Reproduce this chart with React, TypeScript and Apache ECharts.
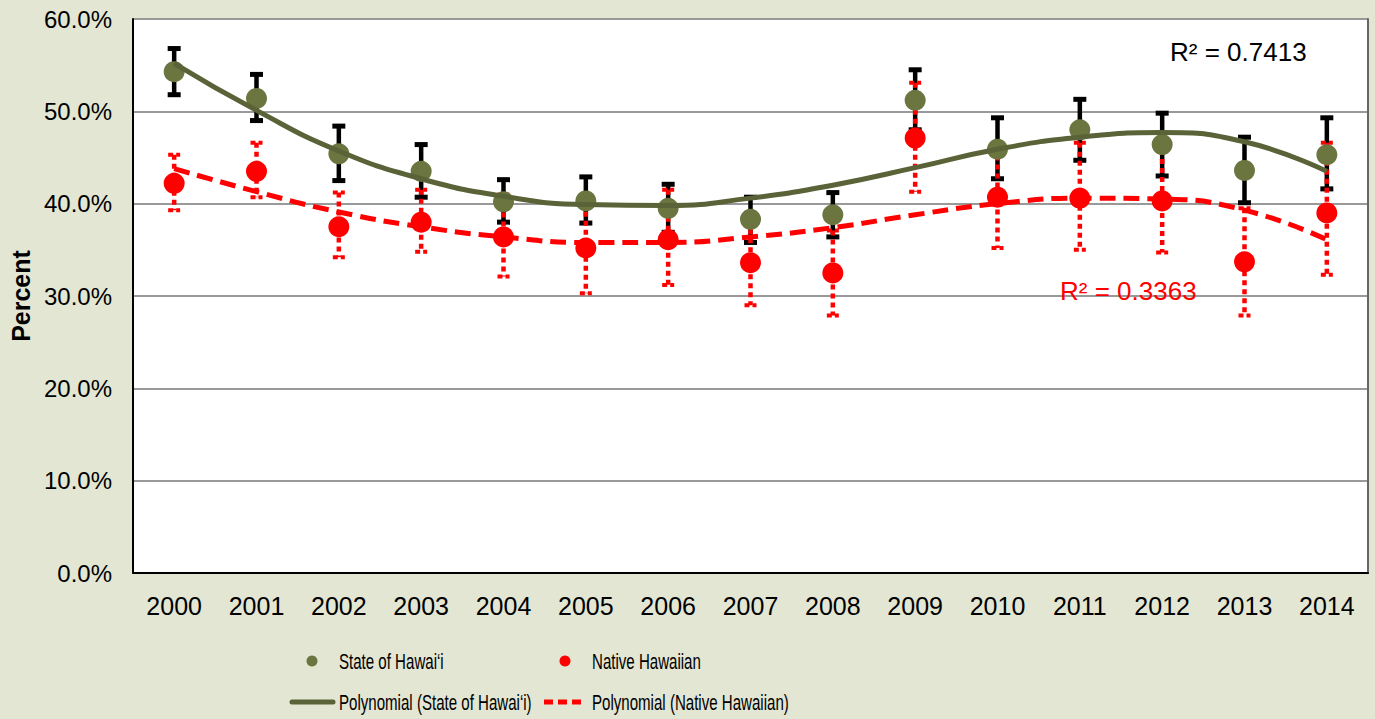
import React, { useEffect, useRef } from 'react';
import * as echarts from 'echarts';

const years = ['2000', '2001', '2002', '2003', '2004', '2005', '2006', '2007', '2008', '2009', '2010', '2011', '2012', '2013', '2014'];

const stateValues = [54.3, 51.4, 45.4, 43.5, 40.2, 40.3, 39.5, 38.3, 38.8, 51.2, 45.9, 48.0, 46.4, 43.6, 45.3];
const stateLow = [51.8, 49.0, 42.5, 40.7, 38.0, 37.9, 36.9, 35.8, 36.4, 48.0, 42.7, 44.7, 43.0, 40.1, 41.6];
const stateHigh = [56.8, 54.0, 48.4, 46.4, 42.6, 42.9, 42.1, 40.7, 41.2, 54.5, 49.3, 51.3, 49.8, 47.2, 49.3];
const stateTrend = [55.2, 50.1, 45.7, 42.7, 40.8, 39.9, 39.8, 40.6, 42.0, 43.9, 45.9, 47.2, 47.7, 46.7, 43.5];

const nativeValues = [42.2, 43.5, 37.5, 38.0, 36.4, 35.2, 36.1, 33.6, 32.5, 47.1, 40.7, 40.6, 40.3, 33.7, 39.0];
const nativeLow = [39.3, 40.7, 34.2, 34.8, 32.1, 30.3, 31.2, 29.0, 27.9, 41.3, 35.2, 35.0, 34.7, 27.9, 32.3];
const nativeHigh = [45.3, 46.6, 41.2, 41.5, 41.0, 40.1, 41.5, 38.2, 37.1, 53.1, 46.2, 46.6, 45.8, 39.5, 46.6];
const nativeTrend = [43.8, 41.3, 39.1, 37.5, 36.4, 35.8, 35.8, 36.4, 37.4, 38.8, 40.0, 40.6, 40.5, 39.3, 36.1];

const yTicks = [0, 10, 20, 30, 40, 50, 60];

const stateName = 'State of Hawai\u2018i';
const nativeName = 'Native Hawaiian';
const stateTrendName = 'Polynomial (State of Hawai\u2018i)';
const nativeTrendName = 'Polynomial (Native Hawaiian)';
const stateR2 = 'R\u00b2 = 0.7413';
const nativeR2 = 'R\u00b2 = 0.3363';

const FONT = '"Liberation Sans", Arial, Helvetica, sans-serif';
const GREEN = '#6B7540';
const GREEN_LINE = '#5A6237';
const RED = '#FF0000';
const BG = '#E3E6D3';

function errorBar(color: string, dashed: boolean) {
  return (params: any, api: any) => {
    const i = api.value(0);
    const lo = api.coord([i, api.value(1)]);
    const hi = api.coord([i, api.value(2)]);
    const half = dashed ? 6 : 6.5;
    const style: any = { stroke: color, lineWidth: 4.5, fill: 'none' };
    if (dashed) style.lineDash = [5, 4];
    const capStyle: any = { stroke: color, lineWidth: dashed ? 4 : 5, fill: 'none' };
    if (dashed) capStyle.lineDash = [5, 3];
    return {
      type: 'group',
      children: [
        { type: 'line', shape: { x1: hi[0], y1: hi[1], x2: lo[0], y2: lo[1] }, style },
        { type: 'line', shape: { x1: hi[0] - half, y1: hi[1], x2: hi[0] + half, y2: hi[1] }, style: capStyle },
        { type: 'line', shape: { x1: lo[0] - half, y1: lo[1], x2: lo[0] + half, y2: lo[1] }, style: capStyle },
      ],
    };
  };
}

export default function App() {
  const ref = useRef<HTMLDivElement>(null);
  useEffect(() => {
    const chart = echarts.init(ref.current!, null, { renderer: 'svg' });
    const legendText = (text: string, x: number, y: number) => ({
      type: 'text',
      x,
      y,
      scaleX: 0.67,
      style: { text, fill: '#000', fontSize: 22.5, fontFamily: FONT, verticalAlign: 'middle', align: 'left' },
    });
    const option: any = {
      animation: false,
      backgroundColor: BG,
      textStyle: { fontFamily: FONT },
      grid: { left: 133, top: 19, width: 1235, height: 554, show: true, backgroundColor: '#fff', borderWidth: 0 },
      xAxis: [
        {
          type: 'category',
          data: years,
          boundaryGap: true,
          axisLine: { lineStyle: { color: '#777', width: 2 } },
          axisTick: { show: false },
          axisLabel: { color: '#000', fontSize: 25, fontFamily: FONT, margin: 20 },
          splitLine: { show: false },
        },
        {
          type: 'category',
          data: years,
          position: 'top',
          axisLine: { lineStyle: { color: '#000', width: 2 } },
          axisTick: { show: false },
          axisLabel: { show: false },
        },
      ],
      yAxis: [
        {
          type: 'value',
          min: yTicks[0],
          max: yTicks[yTicks.length - 1],
          interval: 10,
          axisLine: { show: true, lineStyle: { color: '#000', width: 2 } },
          axisTick: { show: false },
          axisLabel: { color: '#000', fontSize: 24, fontFamily: FONT, margin: 21, formatter: (v: number) => v.toFixed(1) + '%' },
          splitLine: { lineStyle: { color: '#999', width: 2 } },
          name: 'Percent',
          nameLocation: 'middle',
          nameRotate: 90,
          nameGap: 100,
          nameTextStyle: { color: '#000', fontSize: 25, fontWeight: 'bold', fontFamily: FONT },
        },
        {
          type: 'value',
          min: yTicks[0],
          max: yTicks[yTicks.length - 1],
          interval: 10,
          position: 'right',
          axisLine: { show: true, lineStyle: { color: '#666', width: 2 } },
          axisTick: { show: false },
          axisLabel: { show: false },
          splitLine: { show: false },
        },
      ],
      series: [
        {
          type: 'custom',
          name: stateName + ' error',
          renderItem: errorBar('#000', false),
          data: years.map((_, i) => [i, stateLow[i], stateHigh[i]]),
          encode: { x: 0, y: [1, 2] },
          z: 2,
        },
        {
          type: 'custom',
          name: nativeName + ' error',
          renderItem: errorBar(RED, true),
          data: years.map((_, i) => [i, nativeLow[i], nativeHigh[i]]),
          encode: { x: 0, y: [1, 2] },
          z: 2,
        },
        {
          type: 'scatter',
          name: stateName,
          data: stateValues,
          symbol: 'circle',
          symbolSize: 21,
          itemStyle: { color: GREEN, opacity: 1 },
          z: 3,
        },
        {
          type: 'scatter',
          name: nativeName,
          data: nativeValues,
          symbol: 'circle',
          symbolSize: 21,
          itemStyle: { color: RED, opacity: 1 },
          z: 3,
        },
        {
          type: 'line',
          name: stateTrendName,
          data: stateTrend,
          smooth: 0.5,
          symbol: 'none',
          lineStyle: { color: GREEN_LINE, width: 5 },
          z: 4,
        },
        {
          type: 'line',
          name: nativeTrendName,
          data: nativeTrend,
          smooth: 0.5,
          symbol: 'none',
          lineStyle: { color: RED, width: 5, type: [16, 8] },
          z: 4,
        },
      ],
      graphic: [
        { type: 'text', x: 1170, y: 52, style: { text: stateR2, fill: '#000', fontSize: 26, fontFamily: FONT, verticalAlign: 'middle', align: 'left' }, z: 10 },
        { type: 'text', x: 1060, y: 291, style: { text: nativeR2, fill: RED, fontSize: 26, fontFamily: FONT, verticalAlign: 'middle', align: 'left' }, z: 10 },
        { type: 'circle', shape: { cx: 312, cy: 661, r: 5.5 }, style: { fill: GREEN } },
        legendText(stateName, 339, 661),
        { type: 'circle', shape: { cx: 565, cy: 661, r: 5.5 }, style: { fill: RED } },
        legendText(nativeName, 592, 661),
        { type: 'line', shape: { x1: 292, y1: 702, x2: 333, y2: 702 }, style: { stroke: GREEN_LINE, lineWidth: 5, lineCap: 'round' } },
        legendText(stateTrendName, 339, 702),
        { type: 'line', shape: { x1: 544, y1: 702, x2: 582, y2: 702 }, style: { stroke: RED, lineWidth: 5, lineDash: [9, 5] } },
        legendText(nativeTrendName, 592, 702),
      ],
    };
    chart.setOption(option);
    return () => chart.dispose();
  }, []);
  return <div ref={ref} style={{ position: 'fixed', left: 0, top: 0, width: 1375, height: 719 }} />;
}
